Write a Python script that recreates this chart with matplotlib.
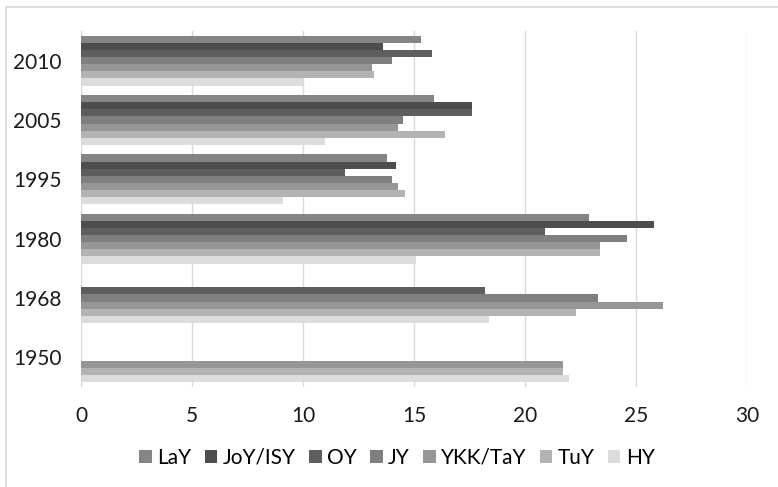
import numpy as np
import matplotlib
matplotlib.use("Agg")
from matplotlib import pyplot as plt
from matplotlib.lines import Line2D

plt.rcParams['font.family'] = ['Lato', 'DejaVu Sans']

years = ["1950", "1968", "1980", "1995", "2005", "2010"]
series = ["LaY", "JoY/ISY", "OY", "JY", "YKK/TaY", "TuY", "HY"]
nan = np.nan
LaY = [nan, nan, 22.9, 13.8, 15.9, 15.3]
JoY = [nan, nan, 25.8, 14.2, 17.6, 13.6]
OY = [nan, 18.2, 20.9, 11.9, 17.6, 15.8]
JY = [nan, 23.3, 24.6, 14.0, 14.5, 14.0]
YKK = [21.7, 26.2, 23.4, 14.3, 14.3, 13.1]
TuY = [21.7, 22.3, 23.4, 14.6, 16.4, 13.2]
HY = [22.0, 18.4, 15.1, 9.1, 11.0, 10.0]
values = [LaY, JoY, OY, JY, YKK, TuY, HY]
colors = ["#858585", "#4d4d4d", "#5e5e5e", "#7f7f7f", "#969696", "#b3b3b3", "#dcdcdc"]

fig = plt.figure(figsize=(7.78, 4.87), dpi=100)
ax = fig.add_axes([81/778, 1-387/487, (747-81)/778, (387-31)/487])

y = np.arange(len(years))
h = 0.12
for i, (name, vals, c) in enumerate(zip(series, values, colors)):
    ax.barh(y + (3 - i) * h, vals, height=h, color=c, label=name, zorder=3)

ax.set_xlim(0, 30)
ax.set_ylim(-0.5, len(years) - 0.5)
ax.set_xticks([0, 5, 10, 15, 20, 25, 30])
ax.set_yticks(y)
ax.set_yticklabels(years)
ax.tick_params(length=0, labelsize=15, colors="#1a1a1a")
ax.tick_params(axis="y", pad=14)
ax.tick_params(axis="x", pad=14)
ax.grid(axis="x", color="#d9d9d9", linewidth=1, zorder=0)
for s in ax.spines.values():
    s.set_visible(False)

# chart frame (top and left edges visible)
fig.add_artist(Line2D([6/778, 1], [1-7/487, 1-7/487], color="#d9d9d9", lw=1.2))
fig.add_artist(Line2D([6/778, 6/778], [0, 1-7/487], color="#d9d9d9", lw=1.2))

fig.legend(loc="center", bbox_to_anchor=(397/778, 1-458/487), ncol=7, frameon=False,
           fontsize=15, handlelength=0.6, handleheight=0.6, handletextpad=0.25,
           columnspacing=0.65, borderaxespad=0)

fig.savefig("out.png", dpi=100)
